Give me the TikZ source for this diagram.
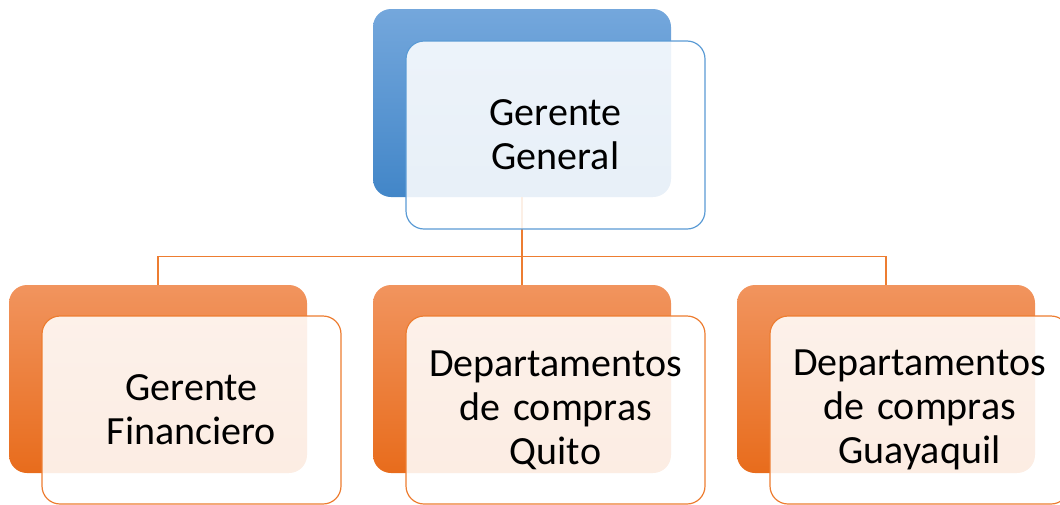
\documentclass[tikz,border=0pt]{standalone}
\usepackage{fontspec}
\setmainfont{Carlito}
\usetikzlibrary{positioning}
\definecolor{bluetop}{RGB}{116,167,220}
\definecolor{bluebot}{RGB}{66,134,200}
\definecolor{blueline}{RGB}{91,155,213}
\definecolor{orangetop}{RGB}{241,148,94}
\definecolor{orangebot}{RGB}{232,108,28}
\definecolor{orangeline}{RGB}{237,125,49}

\begin{document}
\begin{tikzpicture}[x=0.5pt,y=-0.5pt,
			back/.style = {
				rounded corners=9pt, minimum width=149pt,
				minimum height=94pt, inner sep=0pt
			},
			blueback/.style = {back, top color=bluetop, bottom color=bluebot},
			orangeback/.style = {back, top color=orangetop, bottom color=orangebot},
			front/.style = {
				rounded corners=9pt, minimum width=149.5pt,
				minimum height=94pt, inner sep=0pt, fill=white,
				fill opacity=0.88, text opacity=1, draw, line width=0.6pt,
				align=center, text width=140pt,
				font=\fontsize{20}{22}\selectfont
			},
			conn/.style = {orangeline, line width=0.75pt}]
			\useasboundingbox (0,0) rectangle (1060,504);
			\node (gg) [blueback] at (522,103) {};
			\node (gf) [orangeback] at (158,379) {};
			\node (dq) [orangeback] at (522,379) {};
			\node (dg) [orangeback] at (886,379) {};
			\draw [conn] (gg.south) -- (dq.north);
			\draw [conn] (gf.north) -- ++(0,-28) -| (dg.north);
			\node (ggt) [front, draw=blueline] at ([shift={(33.5,32)}]gg.center) {Gerente\\General};
			\node (gft) [front, draw=orangeline] at ([shift={(33.5,31)}]gf.center) {Gerente\\Financiero};
			\node (dqt) [front, draw=orangeline] at ([shift={(33.5,31)}]dq.center) {Departamentos\\de compras\\Quito};
			\node (dgt) [front, draw=orangeline] at ([shift={(33.5,31)}]dg.center) {Departamentos\\de compras\\Guayaquil};
		\end{tikzpicture}
\end{document}
